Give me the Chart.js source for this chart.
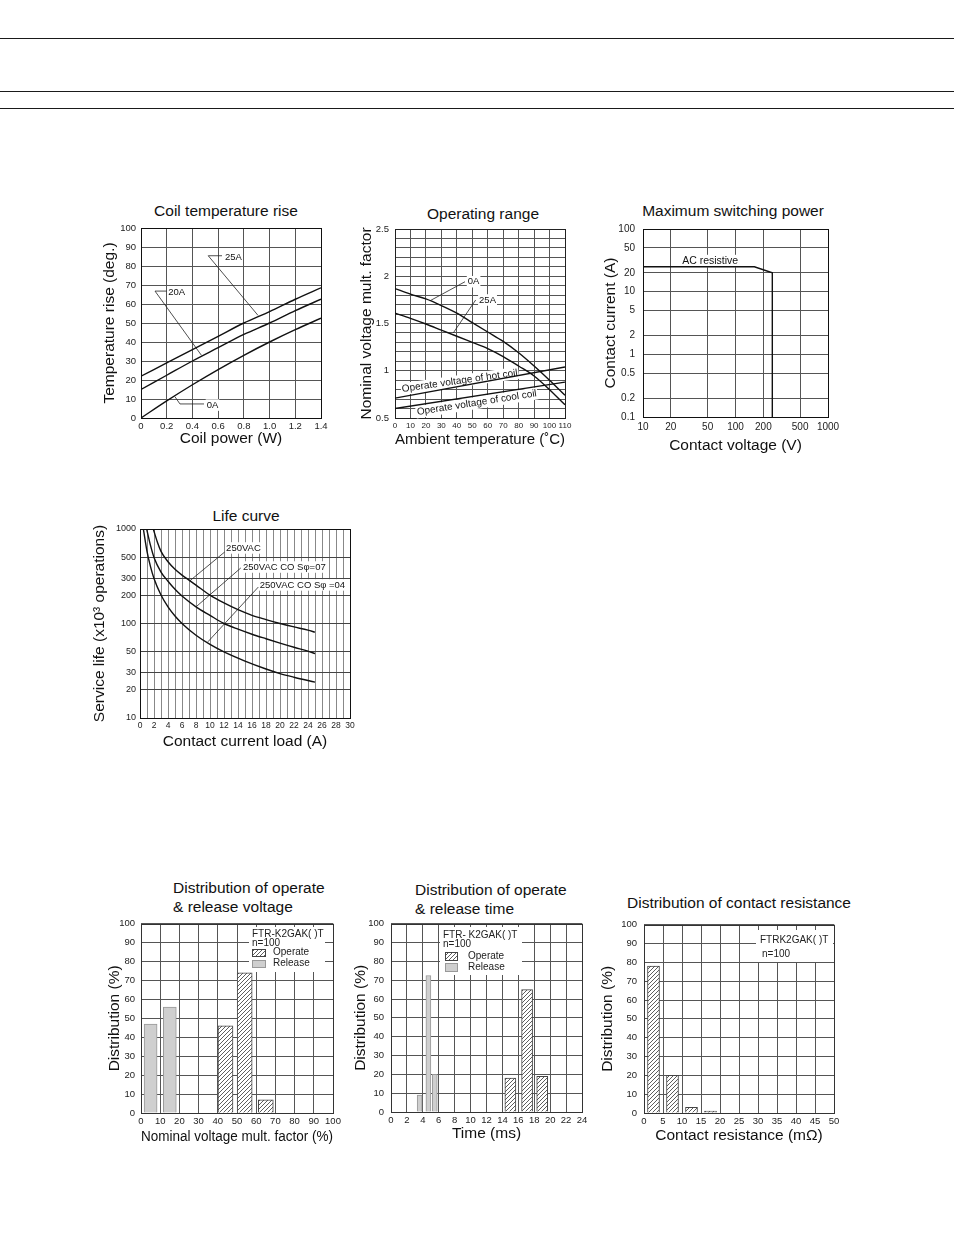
<!DOCTYPE html>
<html>
<head>
<meta charset="utf-8">
<title>Relay characteristics</title>
<script src="https://cdn.jsdelivr.net/npm/chart.js@4.4.1/dist/chart.umd.min.js"></script>
<style>
  html, body { margin: 0; padding: 0; background: #fff; }
  body { position: relative; width: 954px; height: 1235px; overflow: hidden; font-family: "Liberation Sans", Arial, sans-serif; color: #111; }
  .rule { position: absolute; left: 0; width: 954px; height: 1px; background: #1a1a1a; }
  .ttl { position: absolute; font-size: 15.5px; line-height: 1; white-space: nowrap; }
  .mid { transform: translate(-50%, -50%); }
  .lft { transform: translateY(-50%); }
  canvas { position: absolute; }
</style>
</head>
<body>
<div class="rule" style="top:38px"></div>
<div class="rule" style="top:91px"></div>
<div class="rule" style="top:108px"></div>

<div class="ttl mid" style="left:226px;top:211px">Coil temperature rise</div>
<div class="ttl mid" style="left:483px;top:214px">Operating range</div>
<div class="ttl mid" style="left:733px;top:211px">Maximum switching power</div>
<div class="ttl mid" style="left:246px;top:516px">Life curve</div>
<div class="ttl lft" style="left:173px;top:888px">Distribution of operate</div>
<div class="ttl lft" style="left:173px;top:907px">&amp; release voltage</div>
<div class="ttl lft" style="left:415px;top:890px">Distribution of operate</div>
<div class="ttl lft" style="left:415px;top:909px">&amp; release time</div>
<div class="ttl lft" style="left:627px;top:903px">Distribution of contact resistance</div>

<script>
const FONT = '"Liberation Sans", Arial, sans-serif';

// Coil temperature rise
const coilPower = [0, 0.2, 0.4, 0.6, 0.8, 1.0, 1.2, 1.4];
const rise25A = [22, 29, 36, 43, 50, 56, 62.5, 68.5];
const rise20A = [15, 22.5, 30, 37, 44, 50, 56.5, 62.5];
const rise0A = [0, 9, 17.5, 25.5, 33, 40, 46.5, 52.5];
const riseTicks = [0, 10, 20, 30, 40, 50, 60, 70, 80, 90, 100];

// Operating range
const ambientTemp = [0, 10, 20, 30, 40, 50, 60, 70, 80, 90, 100, 110];
const range0A = [1.87, 1.81, 1.76, 1.69, 1.61, 1.51, 1.41, 1.31, 1.19, 1.05, 0.90, 0.74];
const range25A = [1.61, 1.555, 1.495, 1.43, 1.365, 1.30, 1.235, 1.15, 1.05, 0.945, 0.80, 0.64];
const coilTemp = [0, 110];
const hotCoil = [0.71, 1.04];
const coolCoil = [0.60, 0.88];

// Maximum switching power
const switchVolt = [10, 160, 250, 250];
const switchAmp = [25, 25, 20, 0.1];
const voltTicks = [10, 20, 50, 100, 200, 500, 1000];
const ampTicks = [0.1, 0.2, 0.5, 1, 2, 5, 10, 20, 50, 100];

// Life curve
const loadA = [1.9, 2.5, 3, 4, 5, 6, 7, 8, 10, 12, 14, 16, 18, 20, 22, 24, 25];
const lifeA = [1000, 720, 580, 450, 375, 325, 288, 255, 200, 165, 140, 122, 110, 100, 92, 85, 81];
const loadB = [0.95, 1.5, 2, 3, 4, 5, 6, 8, 10, 12, 14, 16, 18, 20, 22, 24, 25];
const lifeB = [1000, 670, 500, 350, 280, 230, 195, 150, 122, 100, 87, 77, 69, 62, 56, 51, 48];
const loadC = [0.48, 1, 1.5, 2, 3, 4, 5, 6, 8, 10, 12, 15, 18, 20, 22, 25];
const lifeC = [1000, 580, 400, 300, 200, 150, 120, 100, 75, 60, 50, 40, 33, 29.5, 27, 24];
const lifeTicks = [10, 20, 30, 50, 100, 200, 300, 500, 1000];

// Distributions
const seriesNames = ['Operate', 'Release'];
const voltOpX = [44, 54, 65];
const voltOpPct = [46, 74, 7];
const voltRelX = [5, 15];
const voltRelPct = [47, 56];
const timeOpX = [15, 17.1, 19];
const timeOpPct = [18, 65, 19];
const timeRelX = [3.6, 4.7, 5.5];
const timeRelPct = [9, 72.5, 20];
const resistX = [2.5, 7.5, 12.5, 17.5];
const resistPct = [78, 20, 3, 1];
const pctTicks = [0, 10, 20, 30, 40, 50, 60, 70, 80, 90, 100];

Chart.defaults.font.family = FONT;
Chart.defaults.color = '#222';

function steps(a, b, s) {
  const out = [];
  for (let v = a; v <= b + s / 2; v += s) out.push(Math.round(v * 1000) / 1000);
  return out;
}
function pts(xs, ys) { return xs.map((x, i) => ({ x, y: ys[i] })); }

function hatch() {
  const c = document.createElement('canvas');
  c.width = c.height = 4;
  const g = c.getContext('2d');
  g.fillStyle = '#fff';
  g.fillRect(0, 0, 4, 4);
  g.strokeStyle = '#333';
  g.lineWidth = 0.8;
  g.beginPath();
  g.moveTo(0, 4); g.lineTo(4, 0);
  g.moveTo(-1, 1); g.lineTo(1, -1);
  g.moveTo(3, 5); g.lineTo(5, 3);
  g.stroke();
  return g.createPattern(c, 'repeat');
}
const HATCH = hatch();
const GREY = '#cfcfcf';

function curve(xs, ys, smooth) {
  return {
    data: pts(xs, ys), showLine: true, borderColor: '#111', borderWidth: 1.4,
    pointRadius: 0, fill: false,
    cubicInterpolationMode: smooth ? 'monotone' : 'default', tension: 0
  };
}

function axis(o, horiz) {
  return {
    type: o.type || 'linear', position: horiz ? 'bottom' : 'left',
    min: o.min, max: o.max, offset: false,
    afterBuildTicks: s => { s.ticks = o.ticks.map(v => ({ value: v })); },
    afterFit: s => { if (horiz) s.height = o.size; else s.width = o.size; },
    grid: { color: o.grid || '#555', lineWidth: 1, drawTicks: false, offset: false },
    border: { display: false },
    ticks: {
      autoSkip: false, maxRotation: 0, minRotation: 0, padding: o.pad, color: '#222',
      font: { family: FONT, size: o.fs || 9.5 }, callback: o.fmt || (v => String(v))
    },
    title: { display: true, text: o.title, color: '#111', font: { family: FONT, size: 15.5 }, padding: { top: 1, bottom: 1 } }
  };
}

function frame(color) {
  return {
    id: 'frame',
    beforeDatasetsDraw(chart) {
      const { ctx, chartArea: a } = chart;
      ctx.save();
      ctx.strokeStyle = color;
      ctx.lineWidth = 1;
      ctx.strokeRect(Math.round(a.left) + 0.5, Math.round(a.top) + 0.5, Math.round(a.right - a.left), Math.round(a.bottom - a.top));
      ctx.restore();
    }
  };
}

function notes(items) {
  return {
    id: 'notes',
    beforeDatasetsDraw(chart) {
      const { ctx, scales: { x, y } } = chart;
      ctx.save();
      items.forEach(n => {
        if (n.path) {
          ctx.beginPath();
          n.path.forEach((p, i) => {
            const px = x.getPixelForValue(p[0]), py = y.getPixelForValue(p[1]);
            if (i) ctx.lineTo(px, py); else ctx.moveTo(px, py);
          });
          ctx.lineWidth = 0.8;
          ctx.strokeStyle = '#222';
          ctx.stroke();
        } else {
          const size = n.size || 9.5;
          ctx.save();
          ctx.translate(x.getPixelForValue(n.at[0]), y.getPixelForValue(n.at[1]));
          ctx.rotate((n.angle || 0) * Math.PI / 180);
          ctx.font = size + 'px ' + FONT;
          const w = ctx.measureText(n.text).width;
          ctx.fillStyle = '#fff';
          ctx.fillRect(-1, -(size + 2) / 2, w + 2, size + 2);
          ctx.fillStyle = '#111';
          ctx.textBaseline = 'middle';
          ctx.textAlign = 'left';
          ctx.fillText(n.text, 0, 0);
          ctx.restore();
        }
      });
      ctx.restore();
    }
  };
}

function distLegend(cfg) {
  return {
    id: 'distLegend',
    afterDatasetsDraw(chart) {
      const { ctx, chartArea: a } = chart;
      const X = v => Math.round(a.left + v), Y = v => Math.round(a.top + v);
      ctx.save();
      ctx.fillStyle = '#fff';
      ctx.fillRect(X(cfg.bg[0]), Y(cfg.bg[1]), cfg.bg[2], cfg.bg[3]);
      ctx.font = cfg.size + 'px ' + FONT;
      ctx.textBaseline = 'middle';
      ctx.fillStyle = '#222';
      cfg.header.forEach(h => ctx.fillText(h.text, X(h.dx), Y(h.dy)));
      (cfg.items || []).forEach(it => {
        ctx.fillStyle = it.fill;
        ctx.fillRect(X(it.box[0]), Y(it.box[1]), it.box[2], it.box[3]);
        ctx.strokeStyle = it.edge;
        ctx.lineWidth = 1;
        ctx.strokeRect(X(it.box[0]) + 0.5, Y(it.box[1]) + 0.5, it.box[2], it.box[3]);
        ctx.fillStyle = '#222';
        ctx.fillText(it.text, X(it.dx), Y(it.dy));
      });
      ctx.restore();
    }
  };
}

function makeChart(box, area, type, datasets, sx, sy, extra, frameColor) {
  const cv = document.createElement('canvas');
  cv.width = box.w;
  cv.height = box.h;
  cv.style.left = box.x + 'px';
  cv.style.top = box.y + 'px';
  cv.style.width = box.w + 'px';
  cv.style.height = box.h + 'px';
  document.body.appendChild(cv);
  sx.size = box.y + box.h - area.b;
  sy.size = area.l - box.x;
  return new Chart(cv.getContext('2d'), {
    type,
    data: { datasets },
    options: {
      responsive: false, animation: false, events: [],
      layout: { padding: { left: 0, top: area.t - box.y, right: box.x + box.w - area.r, bottom: 0 } },
      plugins: { legend: { display: false }, tooltip: { enabled: false } },
      scales: { x: axis(sx, true), y: axis(sy, false) }
    },
    plugins: [frame(frameColor || '#111')].concat(extra || [])
  });
}

// 1. Coil temperature rise
makeChart(
  { x: 99, y: 200, w: 242, h: 249 }, { l: 141, t: 228, r: 321, b: 418 }, 'scatter',
  [curve(coilPower, rise25A, true), curve(coilPower, rise20A, true), curve(coilPower, rise0A, true)],
  { min: 0, max: 1.4, ticks: coilPower, fmt: v => (v === 0 ? '0' : v.toFixed(1)), pad: 3, title: 'Coil power (W)' },
  { min: 0, max: 100, ticks: riseTicks, pad: 5, title: 'Temperature rise (deg.)' },
  [notes([
    { text: '25A', at: [0.653, 84.7] },
    { path: [[0.63, 85.4], [0.523, 85.4], [0.91, 54]] },
    { text: '20A', at: [0.212, 66.3] },
    { path: [[0.2, 66.8], [0.109, 66.8], [0.47, 33]] },
    { text: '0A', at: [0.511, 6.8] },
    { path: [[0.49, 7.4], [0.303, 7.4], [0.264, 11.2]] }
  ])]
);

// 2. Operating range
makeChart(
  { x: 356, y: 200, w: 227, h: 250 }, { l: 395, t: 229, r: 565, b: 418 }, 'scatter',
  [curve(ambientTemp, range0A, true), curve(ambientTemp, range25A, true), curve(coilTemp, hotCoil), curve(coilTemp, coolCoil)],
  { min: 0, max: 110, ticks: ambientTemp, pad: 3, fs: 8, title: 'Ambient temperature (\u02DAC)' },
  {
    min: 0.5, max: 2.5, ticks: steps(0.5, 2.5, 0.1), pad: 6, title: 'Nominal voltage mult. factor',
    fmt: v => { const r = Math.round(v * 10); return r % 5 ? '' : String(r / 10); }
  },
  [notes([
    { text: '0A', at: [47.1, 1.942] },
    { path: [[45.3, 1.942], [22.6, 1.74]] },
    { text: '25A', at: [54.4, 1.749] },
    { path: [[52.2, 1.749], [37.7, 1.40]] },
    { text: 'Operate voltage of hot coil', at: [4.5, 0.805], angle: -8, size: 10 },
    { text: 'Operate voltage of cool coil', at: [14.2, 0.56], angle: -9, size: 10 }
  ])],
  '#222'
);

// 3. Maximum switching power
makeChart(
  { x: 600, y: 200, w: 250, h: 256 }, { l: 643, t: 229, r: 828, b: 417 }, 'scatter',
  [curve(switchVolt, switchAmp)],
  { type: 'logarithmic', min: 10, max: 1000, ticks: voltTicks, pad: 4, fs: 10, title: 'Contact voltage (V)' },
  { type: 'logarithmic', min: 0.1, max: 100, ticks: ampTicks, pad: 8, fs: 10, title: 'Contact current (A)' },
  [notes([{ text: 'AC resistive', at: [26.5, 30.8], size: 10.5 }])]
);

// 4. Life curve
makeChart(
  { x: 89, y: 505, w: 276, h: 247 }, { l: 140, t: 529, r: 350, b: 718 }, 'scatter',
  [curve(loadA, lifeA, true), curve(loadB, lifeB, true), curve(loadC, lifeC, true)],
  { min: 0, max: 30, ticks: steps(0, 30, 1), fmt: v => (v % 2 ? '' : String(v)), pad: 3, fs: 8.5, grid: '#888', title: 'Contact current load (A)' },
  { type: 'logarithmic', min: 10, max: 1000, ticks: lifeTicks, pad: 4, fs: 9, grid: '#444', title: 'Service life (x10\u00B3 operations)' },
  [notes([
    { text: '250VAC', at: [12.3, 630] },
    { path: [[12.1, 571], [7.1, 282]] },
    { text: '250VAC CO S\u03C6=07', at: [14.7, 396] },
    { path: [[14.4, 387], [8.0, 150]] },
    { text: '250VAC CO S\u03C6 =04', at: [17.1, 256] },
    { path: [[16.9, 243], [9.7, 64]] }
  ])]
);

function bars(xs, ys, fill, edge, width) {
  return { data: pts(xs, ys), backgroundColor: fill, borderColor: edge, borderWidth: 1, barThickness: width, grouped: false };
}

// 5. Distribution of operate & release voltage
makeChart(
  { x: 104, y: 912, w: 246, h: 235 }, { l: 141, t: 923, r: 333, b: 1113 }, 'bar',
  [bars(voltOpX, voltOpPct, HATCH, '#444', 15), bars(voltRelX, voltRelPct, GREY, '#999', 13)],
  { min: 0, max: 100, ticks: pctTicks, pad: 3, title: 'Nominal voltage mult. factor (%)' },
  { min: 0, max: 100, ticks: pctTicks, pad: 6, title: 'Distribution (%)' },
  [distLegend({
    size: 10, bg: [108, 3, 76, 45],
    header: [{ text: 'FTR-K2GAK( )T', dx: 111, dy: 10 }, { text: 'n=100', dx: 111, dy: 19 }],
    items: [
      { fill: HATCH, edge: '#444', box: [111, 25, 13, 7], text: seriesNames[0], dx: 132, dy: 28.5 },
      { fill: GREY, edge: '#999', box: [111, 36, 13, 7], text: seriesNames[1], dx: 132, dy: 39.5 }
    ]
  })],
  '#333'
);

// 6. Distribution of operate & release time
makeChart(
  { x: 350, y: 911, w: 248, h: 233 }, { l: 391, t: 922, r: 582, b: 1112 }, 'bar',
  [bars(timeOpX, timeOpPct, HATCH, '#444', 11), bars(timeRelX, timeRelPct, GREY, '#999', 5)],
  { min: 0, max: 24, ticks: steps(0, 24, 2), pad: 3, title: 'Time (ms)' },
  { min: 0, max: 100, ticks: pctTicks, pad: 7, title: 'Distribution (%)' },
  [distLegend({
    size: 10, bg: [49, 3, 82, 48],
    header: [{ text: 'FTR- K2GAK( )T', dx: 52, dy: 11 }, { text: 'n=100', dx: 52, dy: 20 }],
    items: [
      { fill: HATCH, edge: '#444', box: [54, 28, 12, 8], text: seriesNames[0], dx: 77, dy: 32 },
      { fill: GREY, edge: '#999', box: [54, 39, 12, 8], text: seriesNames[1], dx: 77, dy: 43 }
    ]
  })],
  '#333'
);

// 7. Distribution of contact resistance
makeChart(
  { x: 597, y: 912, w: 253, h: 234 }, { l: 644, t: 923, r: 834, b: 1113 }, 'bar',
  [bars(resistX, resistPct, HATCH, '#444', 12)],
  { min: 0, max: 50, ticks: steps(0, 50, 5), pad: 3, title: 'Contact resistance (m\u03A9)' },
  { min: 0, max: 100, ticks: pctTicks, pad: 7, title: 'Distribution (%)' },
  [distLegend({
    size: 10, bg: [112, 5, 77, 32],
    header: [{ text: 'FTRK2GAK( )T', dx: 116, dy: 15 }, { text: 'n=100', dx: 118, dy: 29 }]
  })],
  '#333'
);
</script>
</body>
</html>
